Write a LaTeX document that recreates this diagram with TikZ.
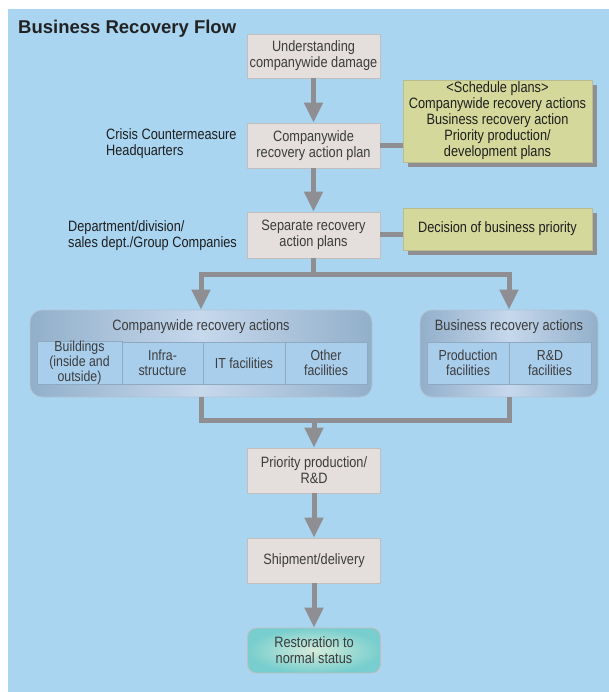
\documentclass[tikz,border=0pt]{standalone}
\usepackage{fontspec}
\setmainfont{Liberation Sans}[FakeStretch=0.85]
\newfontfamily\headfont{Liberation Sans}
\usetikzlibrary{arrows.meta,shadows,calc}

\definecolor{sky}{HTML}{A9D5F1}
\definecolor{boxfill}{HTML}{E4DFDD}
\definecolor{boxline}{HTML}{C2BEBE}
\definecolor{boxtext}{HTML}{3C3C3C}
\definecolor{labeltext}{HTML}{1E1E1E}
\definecolor{arrowgray}{HTML}{8F8F93}
\definecolor{greenfill}{HTML}{D4D99B}
\definecolor{greenline}{HTML}{B9BC8E}
\definecolor{cellfill}{HTML}{A9CEEC}
\definecolor{cellline}{HTML}{8FA9C1}
\definecolor{groupedge}{HTML}{92AFCA}
\definecolor{groupmid}{HTML}{C6D8EC}
\definecolor{groupline}{HTML}{B2C3D4}
\definecolor{tealouter}{HTML}{78CECE}
\definecolor{tealinner}{HTML}{D4ECDA}
\definecolor{titletext}{HTML}{222222}

\begin{document}
\begin{tikzpicture}[x=1pt,y=-1pt,
  bodyfont/.style={font=\fontsize{15}{16}\selectfont},
  stepbox/.style={bodyfont, draw=boxline, line width=0.8pt, fill=boxfill,
    minimum width=133pt, minimum height=45pt, inner sep=0pt,
    align=center, text=boxtext},
  endbox/.style={stepbox, fill=none, inner color=tealinner, outer color=tealouter,
    rounded corners=9pt, draw=boxline},
  notebox/.style={bodyfont, draw=greenline, line width=0.8pt, fill=greenfill,
    minimum width=189pt, inner sep=0pt, align=center, text=labeltext,
    drop shadow={shadow xshift=5pt, shadow yshift=-5pt, fill=arrowgray, opacity=1}},
  sidelabel/.style={bodyfont, anchor=west, align=left, inner sep=0pt, text=labeltext},
  groupbox/.style={draw=groupline, line width=0.8pt, rounded corners=12pt,
    left color=groupedge, right color=groupedge, middle color=groupmid,
    minimum height=87pt, inner sep=0pt},
  grouptitle/.style={bodyfont, text=boxtext, inner sep=0pt},
  cell/.style={draw=cellline, line width=0.8pt, fill=cellfill, minimum height=42pt,
    inner sep=0pt, align=center, text=boxtext, font=\fontsize{14.5}{15}\selectfont},
  flow/.style={draw=arrowgray, line width=5pt},
  flowarrow/.style={flow, -{Triangle[width=18pt,length=20pt]}}
]
\useasboundingbox (0,0) rectangle (609,692);
\fill[white] (0,0) rectangle (609,692);
\fill[sky] (8,9) rectangle (609,692);

% heading
\node[anchor=west, inner sep=0pt, text=titletext,
  font=\headfont\bfseries\fontsize{18.5}{20}\selectfont] (title) at (18,29)
  {Business Recovery Flow};

% main column
\node[stepbox, minimum height=44pt] (b1) at (313.5,56) {Understanding\\companywide damage};
\node[stepbox] (b2) at (313.5,145.5) {Companywide\\recovery action plan};
\node[stepbox, minimum height=46pt] (b3) at (313.5,235) {Separate recovery\\action plans};
\node[stepbox] (b4) at (314,470.5) {Priority production/\\R\&D};
\node[stepbox] (b5) at (314,560.5) {Shipment/delivery};
\node[endbox] (b6) at (314,650.5) {Restoration to\\normal status};

% side labels
\node[sidelabel] (hq) at (106,144) {Crisis Countermeasure\\Headquarters};
\node[sidelabel] (dept) at (68,236) {Department/division/\\sales dept./Group Companies};

% notes on the right
\node[notebox, minimum height=82pt] (g1) at (497.5,121)
  {<Schedule plans>\\Companywide recovery actions\\Business recovery action\\Priority production/\\development plans};
\node[notebox, minimum height=42pt] (g2) at (497.5,229) {Decision of business priority};

% recovery action groups
\node[groupbox, minimum width=342pt] (gL) at (201,353.5) {};
\node[grouptitle] (gLt) at (201,327) {Companywide recovery actions};
\node[cell, minimum width=85pt] (c1) at (79.5,363) {Buildings\\(inside and\\outside)};
\node[cell, minimum width=81pt] (c2) at (162.5,363) {Infra-\\structure};
\node[cell, minimum width=82pt] (c3) at (244,363) {IT facilities};
\node[cell, minimum width=82pt] (c4) at (326,363) {Other\\facilities};

\node[groupbox, minimum width=178pt] (gR) at (509,353.5) {};
\node[grouptitle] (gRt) at (509,327) {Business recovery actions};
\node[cell, minimum width=82pt] (c5) at (468,363) {Production\\facilities};
\node[cell, minimum width=82pt] (c6) at (550,363) {R\&D\\facilities};

% connectors
\draw[flowarrow] (b1) -- (b2);
\draw[flowarrow] (b2) -- (b3);
\draw[flow] (b2.east) -- (g1.west |- b2.east);
\draw[flow] (b3.east) -- (g2.west |- b3.east);

\coordinate (split) at (313.5,274.5);
\draw[flow] (b3.south) -- (split);
\draw[flowarrow, line join=miter] (split) -| (gL.north);
\draw[flowarrow, line join=miter] (split) -| (gR.north);

\coordinate (merge) at (314,420);
\draw[flow, line join=miter] (gL.south) |- (merge);
\draw[flow, line join=miter] (gR.south) |- (merge);
\draw[flowarrow] (merge) -- (b4.north);
\draw[flowarrow] (b4) -- (b5);
\draw[flowarrow] (b5) -- (b6);
\end{tikzpicture}
\end{document}
